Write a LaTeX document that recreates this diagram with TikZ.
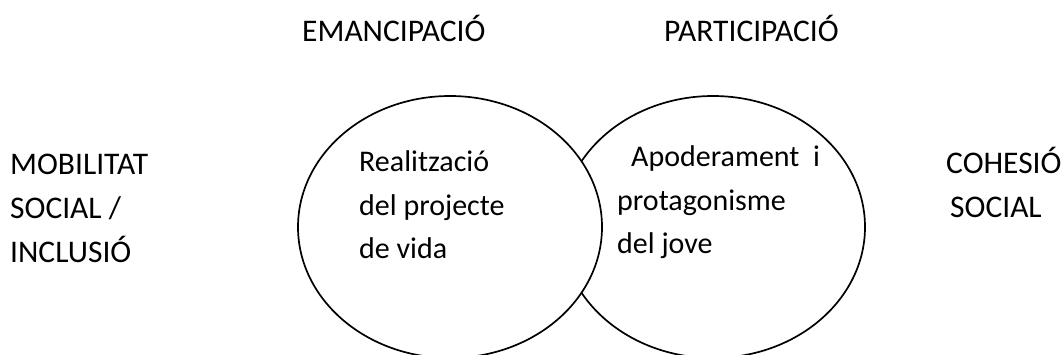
\documentclass[tikz,border=0pt]{standalone}
\usepackage{fontspec}
\setmainfont{Carlito}
\usetikzlibrary{shapes.geometric}
\tikzset{
  textlabel/.style={font=\fontsize{30}{43}\selectfont, align=left, inner sep=0pt, anchor=base west},
  outerlabel/.style={textlabel, font=\fontsize{31.5}{44}\selectfont},
  bubble/.style={ellipse, draw, line width=1.7pt, fill=white, minimum width=304pt, minimum height=262pt, inner sep=0pt}
}
\begin{document}
\begin{tikzpicture}[x=1pt,y=-1pt]
 \useasboundingbox (0,0) rectangle (1064,355);
 % the two overlapping ellipses
 \node[bubble] (participacioellipse) at (713,227) {};
 \node[bubble] (emancipacioellipse) at (450,227) {};
 % titles
 \node[outerlabel] (emancipacio) at (302,42) {EMANCIPACIÓ};
 \node[outerlabel] (participacio) at (664,42) {PARTICIPACIÓ};
 % sides (base = last line)
 \node[outerlabel] (mobilitat) at (10,262) {MOBILITAT\\SOCIAL /\\INCLUSIÓ};
 \node[outerlabel] (cohesio) at (946,218) {COHESIÓ\\\hspace{4pt}SOCIAL};
 % inside the ellipses
 \node[textlabel] (realitzacio) at (359,258) {Realització\\del projecte\\de vida};
 \node[textlabel] (apoderament) at (617,253) {\hspace{14pt}Apoderament \ i\\protagonisme\\del jove};
\end{tikzpicture}
\end{document}
